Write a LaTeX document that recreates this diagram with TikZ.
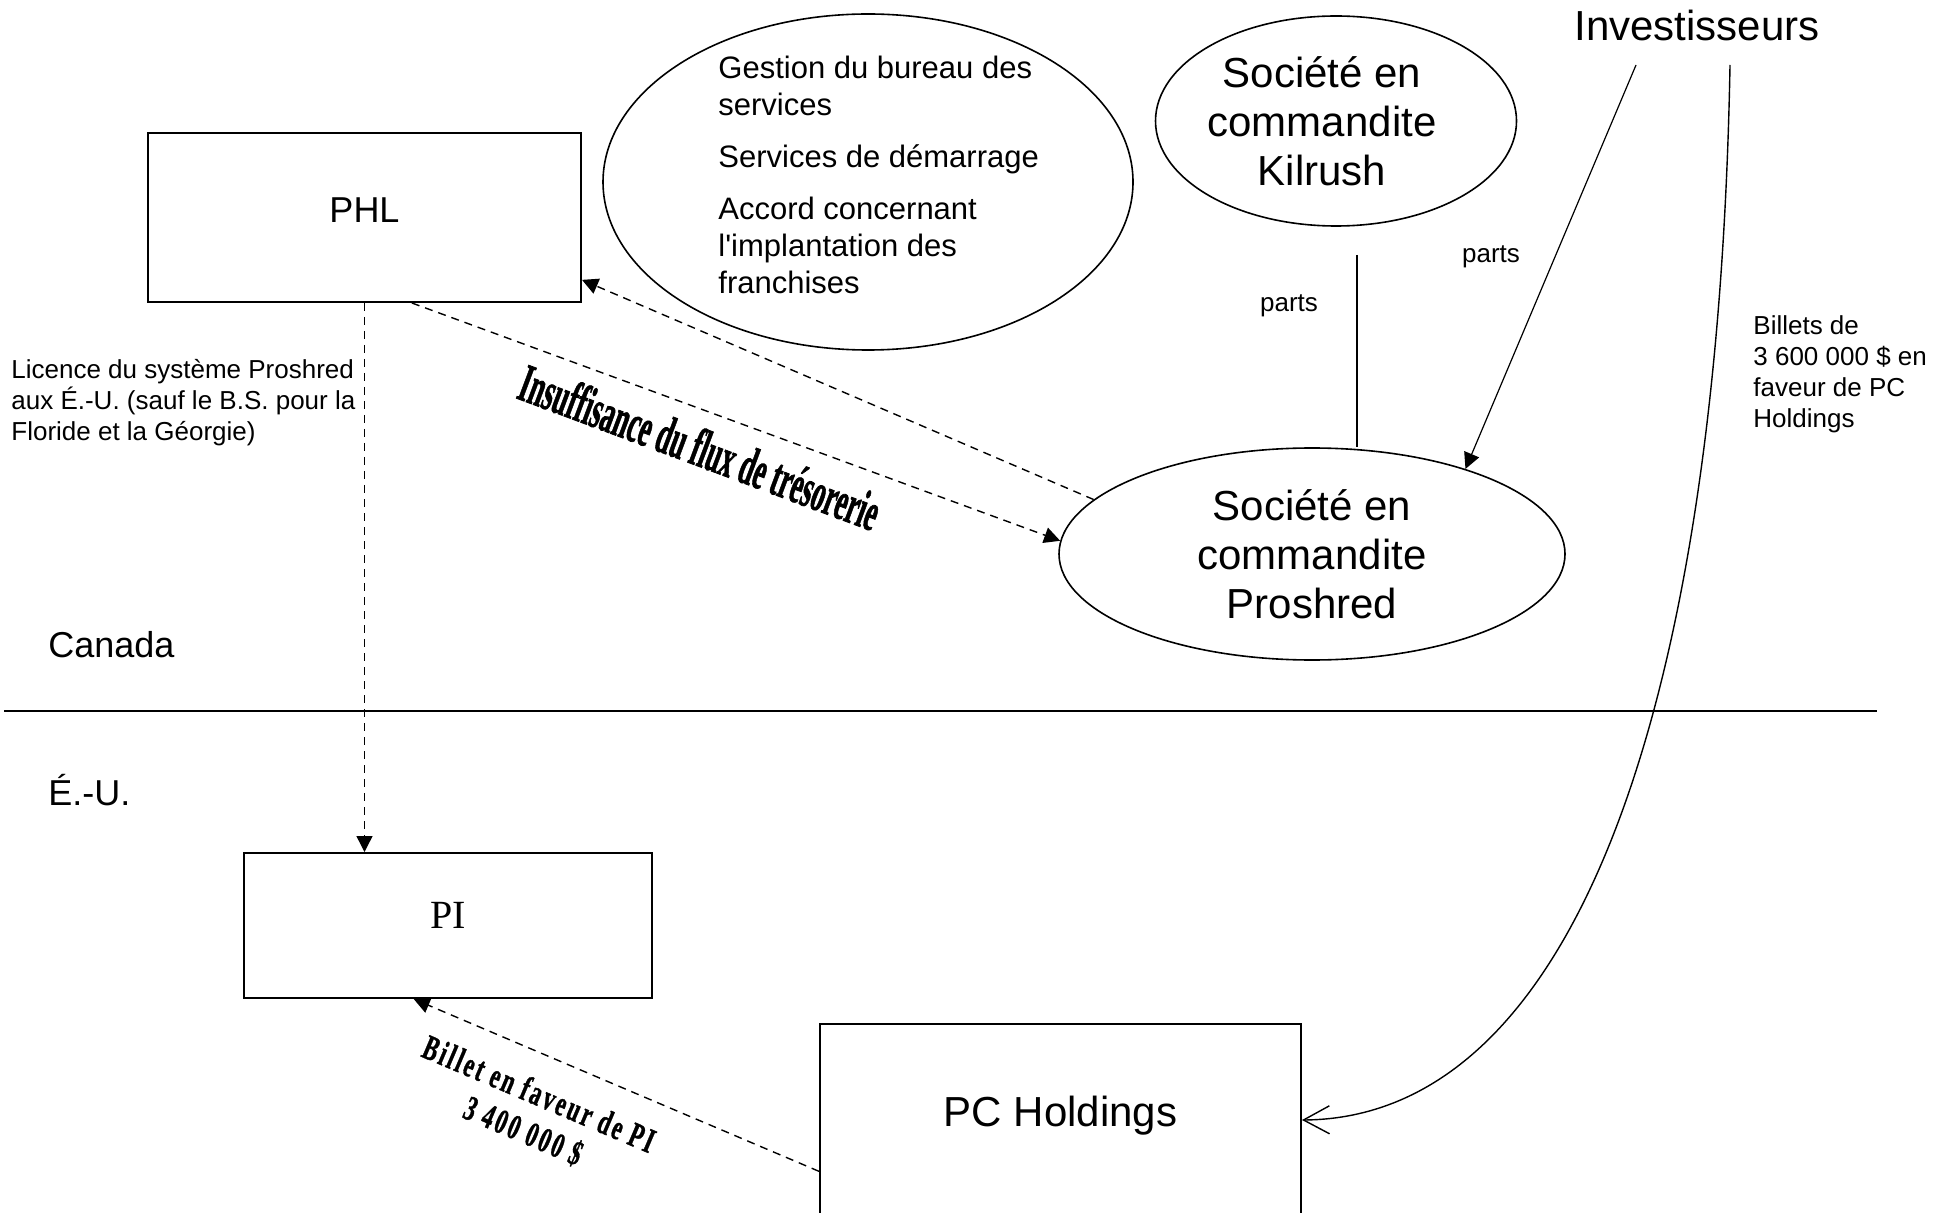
\documentclass[tikz,border=0pt]{standalone}
\usepackage{fontspec}
\usepackage{graphicx}
\setmainfont{Liberation Sans}
\newfontfamily\droitfont{Liberation Sans}
\newfontfamily\romainfont{Liberation Serif}
\newfontfamily\epaisfont{Liberation Serif}[BoldFeatures={FakeBold=1.5}]
\newfontfamily\espacefont{Liberation Serif}[LetterSpace=12, BoldFeatures={FakeBold=1.2}]
\usetikzlibrary{arrows.meta,shapes.geometric}

\tikzset{
  boite/.style={rectangle, draw, line width=1pt, inner sep=0pt},
  bulle/.style={ellipse, draw, line width=0.8pt, inner sep=0pt, align=center, font=\fontsize{21}{24.5}\selectfont},
  gros/.style={font=\fontsize{21}{24.5}\selectfont, align=center, inner sep=0pt},
  tirets/.style={dash pattern=on 4pt off 3pt, line width=0.7pt, -{Triangle[length=8pt,width=8pt]}},
  petit/.style={font=\fontsize{13}{15.5}\selectfont, align=left, inner sep=0pt},
  pays/.style={font=\fontsize{18}{21}\selectfont, inner sep=0pt, anchor=west},
}

\begin{document}
\begin{tikzpicture}[x=0.5pt,y=-0.5pt]
\useasboundingbox (0,0) rectangle (1952,1213);

% boites et bulles
\node[boite, minimum width=216.5pt, minimum height=84.5pt, font=\fontsize{18}{21}\selectfont] (PHL) at (364.5,217.5) {\raisebox{-2.7pt}[0pt][0pt]{PHL}};
\node[boite, minimum width=204pt, minimum height=72.5pt, font=\romainfont\fontsize{20}{23}\selectfont] (PI) at (448,925.5) {\raisebox{-1.5pt}[0pt][0pt]{PI}};
\node[boite, minimum width=240.5pt, minimum height=96pt, font=\fontsize{21}{24.5}\selectfont] (PCH) at (1060.5,1120) {\raisebox{-3pt}[0pt][0pt]{PC Holdings}};

\node[bulle, minimum width=265pt, minimum height=168pt] (gestion) at (868,182) {};
\node[anchor=north west, align=left, inner sep=0pt, font=\fontsize{15.5}{18.5}\selectfont] (services) at (718,56) {Gestion du bureau des\\services\\[7.5pt]Services de démarrage\\[7.5pt]Accord concernant\\l{\droitfont '}implantation des\\franchises};
\node[bulle, minimum width=180.5pt, minimum height=105pt] (kilrush) at (1336,121) {};
\node[gros] (kiltexte) at (1322,121) {Société en\\commandite\\Kilrush};
\node[bulle, minimum width=253pt, minimum height=106pt] (proshred) at (1312,554) {Société en\\commandite\\Proshred};

\node[gros] (invest) at (1697,25) {Investisseurs};

% etiquettes
\node[petit, anchor=north west] (licence) at (11,359) {Licence du système Proshred\\aux É.-U. (sauf le B.S. pour la\\Floride et la Géorgie)};
\node[petit, anchor=north west] (billets) at (1753,315) {Billets de\\3 600 000 \$ en\\faveur de PC\\Holdings};
\node[petit] (partsA) at (1289,306) {parts};
\node[petit] (partsB) at (1491,257) {parts};
\node[pays] (canada) at (48,645) {Canada};
\node[pays] (eu) at (48,790) {É.-U.};

\node[rotate=-20.5, inner sep=0pt, font=\epaisfont\bfseries\fontsize{27}{30}\selectfont] (insuf) at (700,447) {\scalebox{0.5}[1]{Insuffisance du flux de trésorerie}};
\node[rotate=-23, inner sep=0pt, align=center, font=\espacefont\bfseries\fontsize{17.5}{20}\selectfont] (billet) at (531,1113) {\scalebox{0.64}[1]{Billet en faveur de PI}\\\scalebox{0.64}[1]{3 400 000 \$}};

% frontiere
\coordinate (frontG) at (4,711);
\coordinate (frontD) at (1877,711);
\draw[line width=0.7pt] (frontG) -- (frontD);

% liens
\coordinate (kilbas) at (1357,255);
\coordinate (inv1) at (1636,65);
\coordinate (inv2) at (1730,65);
\draw[line width=0.6pt] (kilbas) -- (kilbas |- proshred.north);
\draw[line width=0.6pt, -{Triangle[length=8pt,width=8pt]}] (inv1) -- (proshred.29);
\draw[line width=0.7pt, -{Straight Barb[length=13pt,width=14pt]}] (inv2) .. controls (1718,720) and (1570,1118) .. (PCH.east);

\draw[tirets] (PHL.south) -- (PHL.south |- PI.north);
\draw[tirets] (PHL.-61) -- (proshred.177);
\draw[tirets] (proshred.166) -- (PHL.-16);
\draw[tirets] (PCH.192) -- (PI.-115);
\end{tikzpicture}
\end{document}
